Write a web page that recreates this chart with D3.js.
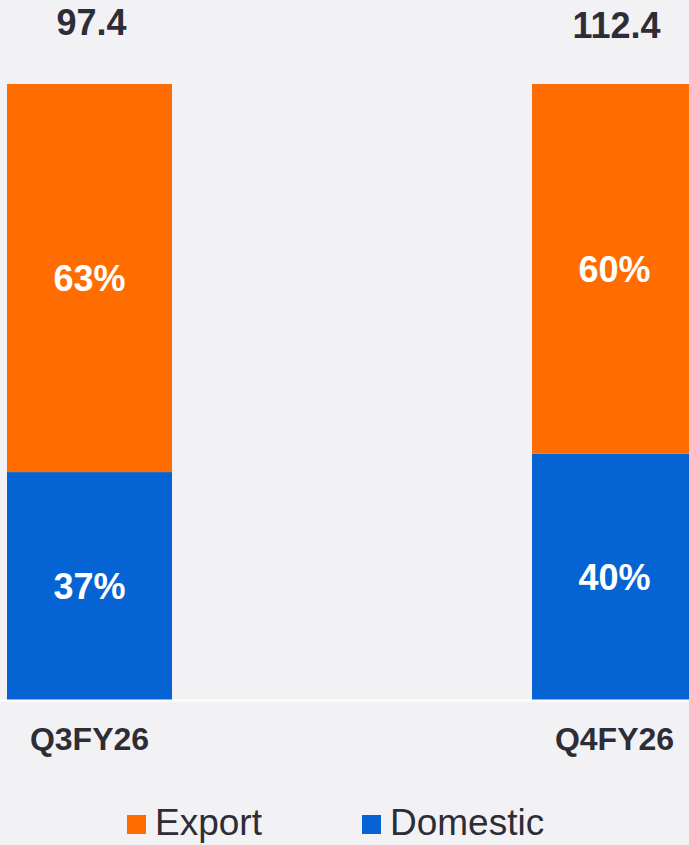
<!DOCTYPE html>
<html lang="en">
<head>
    <meta charset="UTF-8">
    <title>Export vs Domestic</title>
    <script src="https://cdnjs.cloudflare.com/ajax/libs/d3/7.9.0/d3.min.js"></script>
    <style>
        html, body {
            margin: 0;
            padding: 0;
            background: #f2f2f4;
            overflow: hidden;
        }
        svg text {
            font-family: 'Liberation Sans', Arial, sans-serif;
        }
    </style>
</head>
<body>
    <div id="root"></div>
    <script>
        // data
        const categories = ['Q3FY26', 'Q4FY26']
        const totals = [97.4, 112.4]
        const exportShare = [63, 60]
        const domesticShare = [37, 40]
        const seriesNames = ['Export', 'Domestic']

        const w = 689
        const h = 845
        const colors = { Export: '#ff6d00', Domestic: '#0563d4' }
        const textColor = '#2d2d38'
        const baseY = 700
        const topY = 84

        const svg = d3.select('#root')
            .append('svg')
            .attr('width', w)
            .attr('height', h)

        const xScale = d3.scaleBand()
            .domain(categories)
            .range([7, 697])
            .paddingInner(0.6857)
            .paddingOuter(0)

        const yScale = d3.scaleLinear()
            .domain([0, 100])
            .range([baseY, topY])

        const rows = categories.map((c, i) => ({
            cat: c,
            Domestic: domesticShare[i],
            Export: exportShare[i],
            total: totals[i]
        }))

        const stacked = d3.stack().keys(['Domestic', 'Export'])(rows)

        // bars
        const layers = svg.selectAll('g.layer')
            .data(stacked)
            .enter()
            .append('g')
            .attr('class', 'layer')
            .style('fill', d => colors[d.key])

        layers.selectAll('rect')
            .data(d => d)
            .enter()
            .append('rect')
            .attr('x', d => xScale(d.data.cat))
            .attr('y', d => yScale(d[1]))
            .attr('width', xScale.bandwidth())
            .attr('height', d => yScale(d[0]) - yScale(d[1]))

        // percent labels inside segments
        layers.selectAll('text')
            .data(d => d.map(s => ({ s, key: d.key })))
            .enter()
            .append('text')
            .attr('x', d => xScale(d.s.data.cat) + xScale.bandwidth() / 2)
            .attr('y', d => (yScale(d.s[0]) + yScale(d.s[1])) / 2)
            .attr('dy', '0.36em')
            .attr('text-anchor', 'middle')
            .style('fill', '#ffffff')
            .style('font-weight', 'bold')
            .style('font-size', '36px')
            .text(d => `${d.s.data[d.key]}%`)

        // baseline
        svg.append('line')
            .attr('x1', 0)
            .attr('x2', w)
            .attr('y1', baseY + 0.5)
            .attr('y2', baseY + 0.5)
            .style('stroke', '#ffffff')
            .style('stroke-width', 2)

        // totals above bars
        const totalY = [35, 38]
        svg.selectAll('text.total')
            .data(rows)
            .enter()
            .append('text')
            .attr('class', 'total')
            .attr('x', d => xScale(d.cat) + xScale.bandwidth() / 2 + 2)
            .attr('y', (d, i) => totalY[i])
            .attr('text-anchor', 'middle')
            .style('fill', textColor)
            .style('font-weight', 'bold')
            .style('font-size', '36px')
            .text(d => d.total.toFixed(1))

        // category axis
        svg.append('g')
            .attr('transform', `translate(0, ${baseY})`)
            .call(d3.axisBottom(xScale).tickSize(0).tickPadding(27))
            .call(g => g.select('.domain').remove())
            .selectAll('text')
            .style('fill', textColor)
            .style('font-weight', 'bold')
            .style('font-size', '32px')
            .style('font-family', "'Liberation Sans', Arial, sans-serif")

        // legend
        const legendX = [127, 362]
        const legend = svg.append('g')
            .attr('id', 'legend')
            .selectAll('g')
            .data(seriesNames)
            .enter()
            .append('g')
            .attr('transform', (d, i) => `translate(${legendX[i]}, 815)`)
        legend.append('rect')
            .attr('width', 19)
            .attr('height', 19)
            .style('fill', d => colors[d])
        legend.append('text')
            .attr('x', 28)
            .attr('y', 20)
            .style('fill', textColor)
            .style('font-size', '37px')
            .text(d => d)
    </script>
</body>
</html>
